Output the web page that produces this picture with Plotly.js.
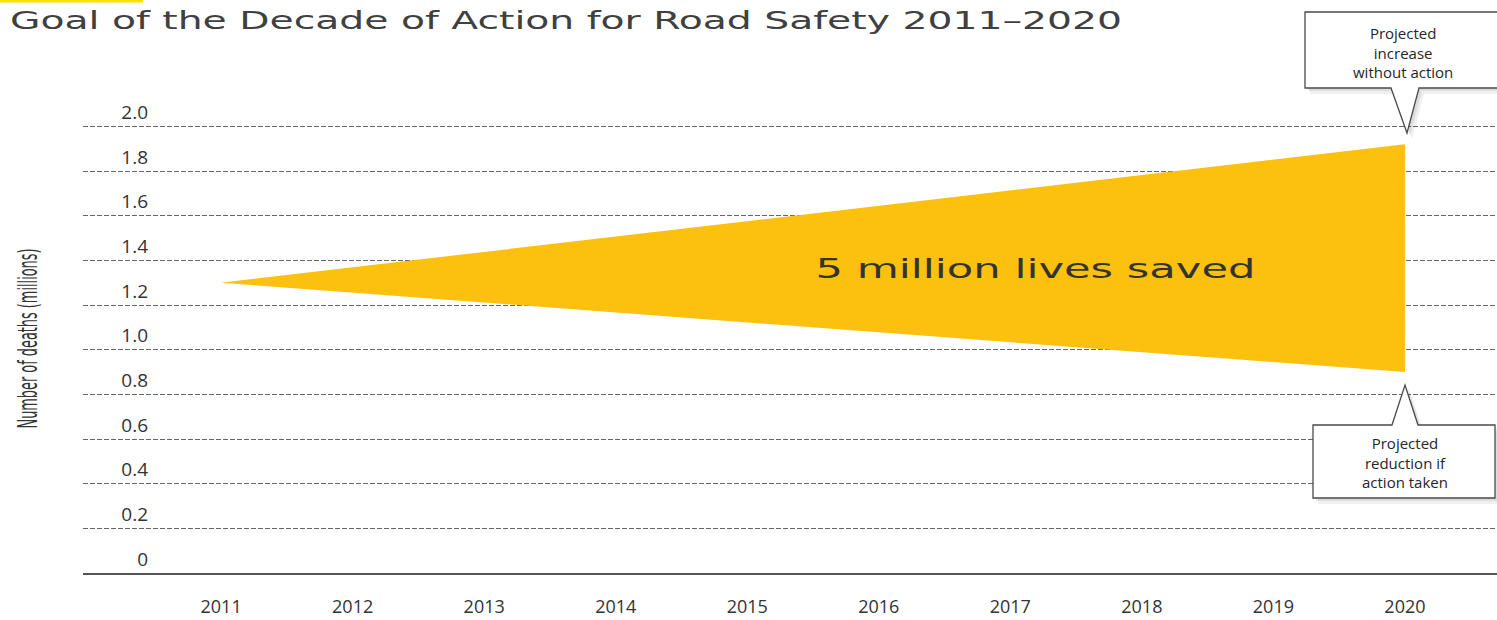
<!DOCTYPE html>
<html>
<head>
<meta charset="utf-8">
<script src="https://cdn.plot.ly/plotly-3.0.1.min.js"></script>
<style>
  html, body { margin: 0; padding: 0; background: #ffffff; }
  #chart { width: 1497px; height: 620px; }
</style>
</head>
<body>
<div id="chart"></div>
<script>
// ---- data ----
const years = [2011, 2012, 2013, 2014, 2015, 2016, 2017, 2018, 2019, 2020];
const yearLabels = ['2011', '2012', '2013', '2014', '2015', '2016', '2017', '2018', '2019', '2020'];
const deathTicks = [0, 0.2, 0.4, 0.6, 0.8, 1.0, 1.2, 1.4, 1.6, 1.8, 2.0];
const deathTickLabels = ['0', '0.2', '0.4', '0.6', '0.8', '1.0', '1.2', '1.4', '1.6', '1.8', '2.0'];
const projectionYears = [2011, 2020];
const deathsWithoutAction = [1.3, 1.92];   // millions
const deathsWithAction = [1.3, 0.9];       // millions

const titleText = 'Goal of the Decade of Action for Road Safety 2011\u20132020';
const yTitleText = 'Number of deaths (millions)';
const savedText = '5 million lives saved';
const calloutUpText = 'Projected<br>increase<br>without action';
const calloutDownText = 'Projected<br>reduction if<br>action taken';

// ---- geometry helpers (page pixels -> paper) ----
const L = 83, R = 0, T = 104, B = 47, W = 1497, H = 620;
const PW = W - L - R, PH = H - T - B;
const px = x => (x - L) / PW;
const py = y => (H - B - y) / PH;
const pathFrom = pts => 'M ' + pts.map(p => px(p[0]) + ',' + py(p[1])).join(' L ') + ' Z';
const shift = (pts, dx, dy) => pts.map(p => [p[0] + dx, p[1] + dy]);

const upBox = [[1305, 12], [1502, 12], [1502, 88], [1419, 88], [1407, 133], [1391, 88], [1305, 88]];
const downBox = [[1313, 425], [1392, 425], [1405, 385], [1418, 425], [1495, 425], [1495, 498], [1313, 498]];

// ---- traces ----
const polyX = [projectionYears[0], projectionYears[1], projectionYears[1], projectionYears[0]];
const polyY = [deathsWithoutAction[0], deathsWithoutAction[1], deathsWithAction[1], deathsWithAction[0]];

const traces = [{
  type: 'scatter',
  mode: 'lines',
  x: polyX,
  y: polyY,
  fill: 'toself',
  fillcolor: '#FCC00E',
  line: { width: 0, color: '#FCC00E' },
  hoverinfo: 'skip',
  showlegend: false
}];

const shapeShadow = (pts, a) => ({
  type: 'path', xref: 'paper', yref: 'paper', layer: 'above',
  path: pathFrom(pts), fillcolor: 'rgba(0,0,0,' + a + ')', line: { width: 0 }
});
const shapeBox = pts => ({
  type: 'path', xref: 'paper', yref: 'paper', layer: 'above',
  path: pathFrom(pts), fillcolor: '#ffffff', line: { color: '#4a4a4a', width: 1.3 }
});

const calloutFont = { family: '"Open Sans", "Noto Sans", sans-serif', size: 15, color: '#262626' };

const layout = {
  width: W, height: H,
  margin: { l: L, r: R, t: T, b: B, pad: 0 },
  paper_bgcolor: '#ffffff',
  plot_bgcolor: '#ffffff',
  showlegend: false,
  font: { family: '"Open Sans", "Noto Sans", sans-serif', color: '#333333' },
  title: {
    text: titleText,
    xref: 'container', yref: 'container',
    x: 10 / W, xanchor: 'left',
    y: 1 - 21 / H, yanchor: 'middle',
    font: { family: '"DejaVu Sans", sans-serif', size: 24, color: '#404040' }
  },
  xaxis: {
    range: [2009.95, 2020.7],
    tickmode: 'array',
    tickvals: years,
    ticktext: yearLabels,
    showgrid: false,
    zeroline: false,
    showline: true,
    linecolor: '#555555',
    linewidth: 1.5,
    ticks: '',
    ticklabelstandoff: 17,
    tickfont: { family: '"Open Sans", sans-serif', size: 18, color: '#333333' },
    fixedrange: true
  },
  yaxis: {
    range: [0, 2.1],
    tickmode: 'array',
    tickvals: deathTicks,
    ticktext: deathTickLabels,
    anchor: 'free',
    position: px(148),
    showline: false,
    zeroline: false,
    showgrid: true,
    gridcolor: '#666666',
    gridwidth: 1,
    griddash: '5px,2px',
    ticks: '',
    ticklabelshift: -14,
    tickfont: { family: '"Open Sans", sans-serif', size: 19, color: '#333333' },
    title: {
      text: yTitleText,
      standoff: 74,
      font: { family: '"Liberation Sans Narrow", "DejaVu Sans Condensed", "Open Sans", sans-serif', size: 27, color: '#333333' }
    },
    fixedrange: true
  },
  shapes: [
    { type: 'line', xref: 'paper', yref: 'paper', x0: px(0), x1: px(143), y0: py(1), y1: py(1),
      line: { color: '#FFE100', width: 3 } },
    shapeShadow(shift(upBox, 5, 6), 0.06),
    shapeShadow(shift(upBox, 3, 3), 0.08),
    shapeBox(upBox),
    shapeShadow(shift(downBox, 5, 6), 0.06),
    shapeShadow(shift(downBox, 3, 3), 0.08),
    shapeBox(downBox)
  ],
  annotations: [
    { text: savedText, xref: 'x', yref: 'y', x: 2017.19, y: 1.365, showarrow: false,
      xanchor: 'center', yanchor: 'middle',
      font: { family: '"DejaVu Sans", sans-serif', size: 27, color: '#333333' } },
    { text: calloutUpText, xref: 'paper', yref: 'paper', x: px(1403), y: py(52), showarrow: false,
      xanchor: 'center', yanchor: 'middle', align: 'center', font: calloutFont },
    { text: calloutDownText, xref: 'paper', yref: 'paper', x: px(1405), y: py(462), showarrow: false,
      xanchor: 'center', yanchor: 'middle', align: 'center', font: calloutFont }
  ]
};

Plotly.newPlot('chart', traces, layout, { displayModeBar: false, staticPlot: true, responsive: false })
  .then(() => {
    const stretch = (el, len) => {
      if (!el) return;
      el.setAttribute('textLength', len);
      el.setAttribute('lengthAdjust', 'spacingAndGlyphs');
    };
    stretch(document.querySelector('.gtitle'), 1112);
    stretch(document.querySelector('.ytitle'), 180);
    document.querySelectorAll('.annotation-text').forEach(t => {
      if (t.textContent === savedText) stretch(t, 440);
    });
  });
</script>
</body>
</html>
